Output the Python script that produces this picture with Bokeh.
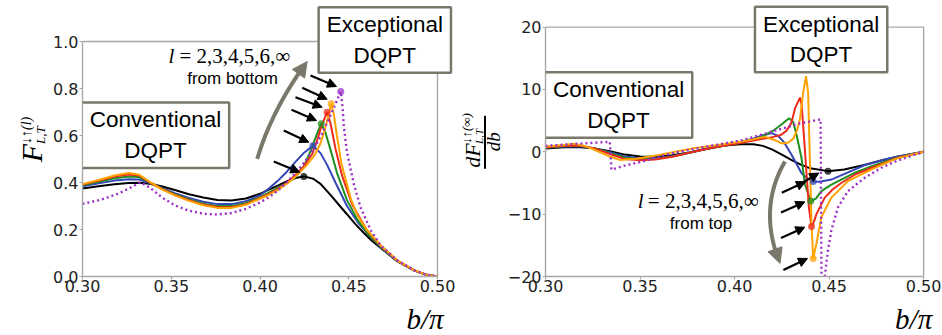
import numpy as np
from bokeh.plotting import figure
from bokeh.layouts import row, column
from bokeh.models import Label, Arrow, NormalHead, FixedTicker, Range1d, NumeralTickFormatter
from bokeh.embed import file_html
from bokeh.resources import INLINE

# ---------------- DATA : left panel  F_{L,T}(b/pi) ----------------
b_grid = [0.300, 0.310, 0.318, 0.326, 0.332, 0.338, 0.345, 0.352, 0.360, 0.368, 0.376, 0.384, 0.392, 0.400]

b_F2 = b_grid + [0.405, 0.410, 0.415, 0.420, 0.4247, 0.430, 0.4341, 0.4397, 0.445, 0.449, 0.4535, 0.4585, 0.463, 0.468, 0.4773, 0.4867, 0.493, 0.500]
F2 = [0.374, 0.385, 0.393, 0.398, 0.399, 0.395, 0.383, 0.368, 0.350, 0.336, 0.326, 0.323, 0.332, 0.352,
      0.370, 0.387, 0.405, 0.419, 0.426, 0.416, 0.394, 0.347, 0.300, 0.265, 0.225, 0.185, 0.152, 0.121, 0.065, 0.026, 0.009, 0.000]

b_F3 = b_grid + [0.405, 0.410, 0.415, 0.420, 0.425, 0.4298, 0.4341, 0.4378, 0.4425, 0.449, 0.455, 0.460, 0.468, 0.4773, 0.4867, 0.493, 0.500]
F3 = [0.384, 0.398, 0.408, 0.414, 0.413, 0.398, 0.376, 0.355, 0.334, 0.318, 0.308, 0.308, 0.320, 0.346,
      0.374, 0.407, 0.445, 0.488, 0.528, 0.556, 0.525, 0.475, 0.400, 0.300, 0.232, 0.188, 0.124, 0.066, 0.026, 0.009, 0.000]

b_F4 = b_grid + [0.405, 0.410, 0.415, 0.420, 0.4245, 0.4285, 0.432, 0.4345, 0.4369, 0.4397, 0.4434, 0.449, 0.4548, 0.4604, 0.468, 0.4773, 0.4867, 0.493, 0.500]
F4 = [0.388, 0.404, 0.418, 0.426, 0.423, 0.399, 0.373, 0.350, 0.328, 0.310, 0.300, 0.300, 0.312, 0.338,
      0.357, 0.377, 0.397, 0.424, 0.465, 0.535, 0.605, 0.650, 0.612, 0.540, 0.440, 0.325, 0.243, 0.185, 0.126, 0.067, 0.027, 0.009, 0.000]

b_F5 = b_grid + [0.405, 0.410, 0.415, 0.420, 0.425, 0.4293, 0.432, 0.4346, 0.4378, 0.4397, 0.4425, 0.4462, 0.452, 0.4604, 0.468, 0.4773, 0.4867, 0.493, 0.500]
F5 = [0.391, 0.409, 0.425, 0.434, 0.430, 0.400, 0.372, 0.347, 0.325, 0.306, 0.296, 0.295, 0.308, 0.334,
      0.352, 0.372, 0.398, 0.432, 0.472, 0.520, 0.575, 0.640, 0.699, 0.652, 0.545, 0.430, 0.305, 0.195, 0.130, 0.068, 0.027, 0.009, 0.000]

b_F6 = b_grid + [0.405, 0.410, 0.415, 0.420, 0.4265, 0.431, 0.434, 0.4365, 0.4388, 0.4401, 0.4416, 0.4433, 0.4459, 0.4512, 0.4548, 0.460, 0.468, 0.4773, 0.4867, 0.493, 0.500]
F6 = [0.393, 0.413, 0.430, 0.440, 0.433, 0.402, 0.370, 0.345, 0.322, 0.303, 0.292, 0.292, 0.305, 0.331,
      0.348, 0.368, 0.394, 0.425, 0.475, 0.520, 0.565, 0.625, 0.693, 0.735, 0.690, 0.600, 0.480, 0.330, 0.262, 0.200, 0.133, 0.069, 0.027, 0.009, 0.000]

b_Finf = [0.300, 0.310, 0.320, 0.327, 0.3327, 0.338, 0.345, 0.352, 0.360, 0.368, 0.376, 0.384, 0.392, 0.400,
          0.405, 0.410, 0.415, 0.420, 0.425, 0.430, 0.435, 0.440, 0.4455, 0.4465, 0.4472, 0.449, 0.4528, 0.4566, 0.4623, 0.468, 0.4773, 0.4867, 0.493, 0.500]
Finf = [0.309, 0.326, 0.352, 0.378, 0.401, 0.378, 0.335, 0.303, 0.280, 0.267, 0.264, 0.270, 0.288, 0.315,
        0.337, 0.365, 0.400, 0.440, 0.485, 0.540, 0.608, 0.690, 0.787, 0.720, 0.640, 0.530, 0.395, 0.295, 0.198, 0.132, 0.069, 0.027, 0.009, 0.000]

# peak markers (left panel), order l = 2,3,4,5,6,inf
peak_b = [0.4247, 0.4298, 0.4345, 0.4378, 0.4401, 0.4455]
peak_F = [0.426, 0.556, 0.650, 0.699, 0.735, 0.787]

# ---------------- DATA : right panel  dF/db ----------------
b_D2 = [0.300, 0.310, 0.318, 0.326, 0.334, 0.342, 0.350, 0.358, 0.367, 0.376, 0.385, 0.395, 0.403, 0.410, 0.415, 0.420,
        0.425, 0.430, 0.435, 0.440, 0.4494, 0.458, 0.4687, 0.478, 0.486, 0.493, 0.500]
D2 = [0.55, 0.72, 0.75, 0.55, 0.10, -0.45, -0.75, -0.78, -0.55, -0.10, 0.50, 1.00, 1.22, 1.20, 0.95, 0.35,
      -0.45, -1.30, -2.05, -2.65, -3.10, -2.85, -2.10, -1.35, -0.80, -0.40, 0.00]

b_D3 = [0.300, 0.310, 0.318, 0.326, 0.334, 0.342, 0.350, 0.358, 0.367, 0.376, 0.385, 0.395, 0.403, 0.410, 0.415, 0.4197,
        0.423, 0.426, 0.4302, 0.4354, 0.4385, 0.4416, 0.445, 0.4512, 0.460, 0.4687, 0.478, 0.486, 0.493, 0.500]
D3 = [0.65, 0.85, 0.88, 0.55, -0.05, -0.75, -1.05, -1.05, -0.70, -0.15, 0.45, 1.05, 1.55, 2.15, 2.65, 3.00,
      2.55, 1.60, -0.50, -3.40, -4.30, -4.75, -4.80, -4.45, -3.30, -2.15, -1.35, -0.80, -0.40, 0.00]

b_D4 = [0.300, 0.310, 0.318, 0.326, 0.334, 0.342, 0.350, 0.358, 0.367, 0.376, 0.385, 0.395, 0.403, 0.410, 0.415, 0.420,
        0.4245, 0.4288, 0.431, 0.4328, 0.4354, 0.4372, 0.4403, 0.443, 0.4459, 0.451, 0.4564, 0.464, 0.4722, 0.480, 0.486, 0.493, 0.500]
D4 = [0.70, 0.92, 0.95, 0.55, -0.20, -0.95, -1.20, -1.15, -0.75, -0.15, 0.45, 1.00, 1.45, 1.95, 2.50, 3.30,
      4.30, 5.40, 4.80, 2.70, -1.00, -5.20, -7.90, -7.50, -6.30, -5.30, -4.45, -3.30, -2.35, -1.55, -0.95, -0.45, 0.00]

b_D5 = [0.300, 0.310, 0.318, 0.326, 0.334, 0.342, 0.350, 0.358, 0.367, 0.376, 0.385, 0.395, 0.403, 0.410, 0.415, 0.420,
        0.4245, 0.4275, 0.430, 0.432, 0.4346, 0.4355, 0.4363, 0.4381, 0.4393, 0.4407, 0.442, 0.4433, 0.4477, 0.452, 0.4564, 0.464, 0.4722, 0.480, 0.486, 0.493, 0.500]
D5 = [0.75, 0.98, 1.00, 0.55, -0.35, -1.15, -1.35, -1.25, -0.80, -0.15, 0.45, 1.00, 1.40, 1.80, 2.10, 2.35,
      2.70, 3.40, 4.60, 7.00, 8.70, 7.50, 4.20, -3.70, -8.90, -12.00, -11.20, -10.00, -7.35, -6.00, -5.00, -3.60, -2.60, -1.70, -1.00, -0.50, 0.00]

b_D6 = [0.300, 0.310, 0.3147, 0.320, 0.325, 0.334, 0.3392, 0.348, 0.360, 0.3777, 0.390, 0.404, 0.4162, 0.421, 0.425, 0.4285,
        0.4311, 0.433, 0.4346, 0.4363, 0.4378, 0.4389, 0.4398, 0.4407, 0.4416, 0.4433, 0.4459, 0.4512, 0.460, 0.4722, 0.480, 0.486, 0.493, 0.500]
D6 = [0.85, 1.10, 1.30, 1.00, 0.45, -0.76, -1.30, -1.13, -0.50, 0.55, 1.05, 1.65, 2.40, 1.90, 1.34, 1.50,
      2.13, 3.40, 5.30, 9.50, 12.15, 9.50, -1.00, -11.60, -17.10, -14.70, -10.50, -7.35, -4.70, -2.87, -1.80, -1.05, -0.50, 0.00]

b_Dinf = [0.300, 0.310, 0.320, 0.334, 0.3349, 0.342, 0.3514, 0.360, 0.369, 0.380, 0.392, 0.404, 0.4162, 0.425, 0.4337, 0.4455,
          0.4460, 0.4477, 0.4494, 0.4512, 0.4547, 0.460, 0.4687, 0.4774, 0.486, 0.493, 0.500]
Dinf = [0.95, 1.15, 1.35, 1.60, -2.87, -2.20, -1.55, -0.80, -0.08, 0.55, 1.20, 1.87, 2.93, 3.70, 4.50, 5.20,
        -22.0, -20.0, -15.8, -12.6, -8.9, -6.3, -4.2, -2.6, -1.45, -0.70, 0.00]

# dip markers (right panel), order l = 2,3,4,5,6
dip_b = [0.4494, 0.4416, 0.4403, 0.4407, 0.4416]
dip_D = [-3.10, -4.75, -7.90, -12.00, -17.10]

# ticks
x_ticks = [0.30, 0.35, 0.40, 0.45, 0.50]
yl_ticks = [0.0, 0.2, 0.4, 0.6, 0.8, 1.0]
yr_ticks = [-20, -10, 0, 10, 20]
yr_labels = {-20: "\u221220", -10: "\u221210", 0: "0", 10: "10", 20: "20"}

# ---------------- STYLE / LAYOUT ----------------
COLORS = ["#000000", "#3547b8", "#1f8f1f", "#ee2a1b", "#ffa200", "#9b30c8"]
FRAME = "#a8a8a8"
BOXC = "#7a786a"
ARROWC = "#7a786a"
MID = 0.34   # distance from alphabetic baseline to the text-box middle, in em

H_TOP, H_BOT = 302, 33
W_YL, W_L, W_YR, W_R = 50, 406, 48, 438   # page x: 0|50|456|504|942


def Lxy(X, Y):   # page pixel -> data, left panel (0.30..0.50 at x 82..437, 0..1 at y 276..41)
    return 0.30 + (np.asarray(X) - 82) / 1775.0, (276 - np.asarray(Y)) / 235.0


def Rxy(X, Y):   # page pixel -> data, right panel (x 542..923, 20..-20 at y 27..280)
    return 0.30 + (np.asarray(X) - 542) / 1905.0, (153.5 - np.asarray(Y)) / 6.325


def Pxy(X, Y):   # page pixel coordinates (label strips)
    return np.asarray(X), np.asarray(Y)


def strip(width, height, x0, y0):
    p = figure(width=width, height=height, x_range=Range1d(x0, x0 + width), y_range=Range1d(y0 + height, y0),
               output_backend="svg", toolbar_location=None, x_axis_type=None, y_axis_type=None,
               min_border_left=0, min_border_right=0, min_border_top=0, min_border_bottom=0)
    p.outline_line_color = None
    p.background_fill_color = "white"
    p.border_fill_color = "white"
    return p


def make_panel(width, xr, yr, bl, bb, yticks, yfmt, xstand):
    p = figure(width=width, height=H_TOP, x_range=Range1d(*xr), y_range=Range1d(*yr),
               output_backend="svg", toolbar_location=None,
               min_border_left=bl, min_border_right=0, min_border_top=0, min_border_bottom=bb)
    p.xgrid.visible = False
    p.ygrid.visible = False
    p.outline_line_color = None
    p.background_fill_color = "white"
    p.border_fill_color = "white"
    p.xaxis.ticker = FixedTicker(ticks=x_ticks)
    p.yaxis.ticker = FixedTicker(ticks=yticks)
    p.xaxis.formatter = NumeralTickFormatter(format="0.00")
    if yfmt is not None:
        p.yaxis.formatter = NumeralTickFormatter(format=yfmt)
    p.xaxis.bounds = (x_ticks[0], x_ticks[-1])
    p.yaxis.bounds = (yticks[0], yticks[-1])
    for ax in (p.xaxis[0], p.yaxis[0]):
        ax.axis_line_color = FRAME
        ax.axis_line_width = 1.4
        ax.major_tick_line_color = FRAME
        ax.major_tick_line_width = 1.2
        ax.major_tick_in = 0
        ax.major_tick_out = 3
        ax.minor_tick_line_color = None
        ax.major_label_text_font = "DejaVu Sans"
        ax.major_label_text_font_size = "16px"
        ax.major_label_text_color = "#222222"
    p.yaxis[0].major_label_standoff = 1
    p.xaxis[0].major_label_standoff = xstand
    # top and right spines of the axes box
    p.multi_line([[x_ticks[0], x_ticks[-1]], [x_ticks[-1], x_ticks[-1]]],
                 [[yticks[-1], yticks[-1]], [yticks[0], yticks[-1]]], line_color=FRAME, line_width=1.4)
    return p


def add_text(p, conv, X, Y, text, size, font="Liberation Serif", style="normal",
             align="left", vertical=False):
    """(X, Y) is the point on the alphabetic baseline (page pixels)."""
    if vertical:
        X = X - MID * size
        angle = np.pi / 2
    else:
        Y = Y - MID * size
        angle = 0.0
    x, y = conv(X, Y)
    p.add_layout(Label(x=float(x), y=float(y), text=text, text_font=font, text_font_size=f"{size}px",
                       text_font_style=style, text_align=align, text_baseline="middle",
                       angle=angle, text_color="black"))


def add_box(p, conv, X, Y, text):
    x, y = conv(X, Y)
    p.add_layout(Label(x=float(x), y=float(y), text=text, text_font="Liberation Sans",
                       text_font_size="22.5px", text_align="center", text_baseline="middle",
                       text_line_height=1.22, text_color="black",
                       background_fill_color="white", background_fill_alpha=1.0,
                       border_line_color=BOXC, border_line_width=2.5,
                       padding=dict(left=8, right=8, top=5, bottom=5)))


def add_arrow(p, conv, s, e, color="black", width=2.2, head=9):
    x0, y0 = conv(*s)
    x1, y1 = conv(*e)
    p.add_layout(Arrow(x_start=float(x0), y_start=float(y0), x_end=float(x1), y_end=float(y1),
                       line_color=color, line_width=width,
                       end=NormalHead(size=head, fill_color=color, line_color=color, line_width=1)))


def curved_arrow(p, conv, s, c, e, color=ARROWC, width=4, head=15):
    t = np.linspace(0, 1, 41)
    X = (1 - t) ** 2 * s[0] + 2 * (1 - t) * t * c[0] + t ** 2 * e[0]
    Y = (1 - t) ** 2 * s[1] + 2 * (1 - t) * t * c[1] + t ** 2 * e[1]
    xs, ys = conv(X, Y)
    p.line(xs[:-4], ys[:-4], line_color=color, line_width=width)
    p.add_layout(Arrow(x_start=float(xs[-6]), y_start=float(ys[-6]), x_end=float(xs[-1]), y_end=float(ys[-1]),
                       line_color=color, line_width=width,
                       end=NormalHead(size=head, fill_color=color, line_color=color, line_width=1)))


# ================= LEFT PANEL =================
p1 = make_panel(W_L, (0.30, 0.30 + (W_YL + W_L - 82) / 1775.0), (0.0, 276 / 235.0), 32, H_TOP - 276, yl_ticks, "0.0", 0)
left_series = [(b_F2, F2), (b_F3, F3), (b_F4, F4), (b_F5, F5), (b_F6, F6)]
for (bx, fy), col in zip(left_series, COLORS[:5]):
    p1.line(bx, fy, line_color=col, line_width=2)
p1.line(b_Finf, Finf, line_color=COLORS[5], line_width=2.4, line_dash="2 3")
p1.scatter(peak_b, peak_F, size=7, marker="circle", fill_color=COLORS, line_color=None, fill_alpha=0.75)

add_box(p1, Lxy, 155.0, 134.7, "Conventional\nDQPT")
add_box(p1, Lxy, 384.3, 39.5, "Exceptional\nDQPT")
add_text(p1, Lxy, 168, 63, "l", 21, style="italic")
add_text(p1, Lxy, 295, 63, " = 2,3,4,5,6,\u221e", 21, align="right")
add_text(p1, Lxy, 232, 84, "from bottom", 17, font="Liberation Sans", align="center")
curved_arrow(p1, Lxy, (256.7, 158.3), (272, 108), (306.7, 61))
for s, e in [((273.3, 161), (299.3, 171.7)), ((283.3, 130), (308.3, 141.7)), ((291, 109.3), (316, 120)),
             ((295, 96.7), (321.7, 106.7)), ((301.7, 87.3), (326.7, 98.7)), ((310, 75), (336, 86))]:
    add_arrow(p1, Lxy, s, e)

# left y-label strip:  F^{↓↑(l)}_{L,T}
yl = strip(W_YL, H_TOP, 0, 0)
add_text(yl, Pxy, 41.5, 177, "F", 30, style="italic", vertical=True)
add_text(yl, Pxy, 30.5, 157, "\u2193\u2191(l)", 14, style="italic", vertical=True)
add_text(yl, Pxy, 44.5, 157, "L,T", 13, style="italic", vertical=True)

# ================= RIGHT PANEL =================
p2 = make_panel(W_R, (0.30, 0.30 + 400 / 1905.0), (-20.0, -20.0 + 280 / 6.325), 542 - 504, H_TOP - 280, yr_ticks, None, 0)
p2.yaxis.major_label_overrides = yr_labels
right_series = [(b_D2, D2), (b_D3, D3), (b_D4, D4), (b_D5, D5), (b_D6, D6)]
for (bx, dy), col in zip(right_series, COLORS[:5]):
    p2.line(bx, dy, line_color=col, line_width=2)
p2.line(b_Dinf, Dinf, line_color=COLORS[5], line_width=2.4, line_dash="2 3")
p2.scatter(dip_b, dip_D, size=7, marker="circle", fill_color=COLORS[:5], line_color=None, fill_alpha=0.75)

add_box(p2, Rxy, 819.7, 39.5, "Exceptional\nDQPT")
add_box(p2, Rxy, 615.6, 105.9, "Conventional\nDQPT")
add_text(p2, Rxy, 635, 211, "l", 21, style="italic")
add_text(p2, Rxy, 762, 211, " = 2,3,4,5,6,\u221e", 21, align="right")
add_text(p2, Rxy, 698.7, 232, "from top", 17, font="Liberation Sans", align="center")
curved_arrow(p2, Rxy, (783.3, 163.3), (755.8, 211), (778.3, 266.7))
for s, e in [((795, 188.3), (817.3, 175)), ((780, 195), (804, 184)), ((779.3, 215), (803.3, 204.3)),
             ((779.3, 241), (803.3, 230)), ((781.7, 273.3), (806, 261.7))]:
    add_arrow(p2, Rxy, s, e)

# right y-label strip:  dF^{↓↑(∞)}_{L,T} / db
yr = strip(W_YR, H_TOP, W_YL + W_L, 0)
add_text(yr, Pxy, 479.5, 183, "dF", 22, style="italic", vertical=True)
add_text(yr, Pxy, 470, 157, "\u2193\u2191(\u221e)", 13, style="italic", vertical=True)
add_text(yr, Pxy, 482, 157, "L,T", 11, style="italic", vertical=True)
yr.add_layout(Arrow(x_start=484.5, y_start=184, x_end=484.5, y_end=126,
                    line_color="black", line_width=2, end=None, start=None))
add_text(yr, Pxy, 499.5, 165, "db", 19, style="italic", vertical=True)

# ================= bottom strip with the x labels =================
xb = strip(942, H_BOT, 0, H_TOP)
add_text(xb, Pxy, 443, 327.9, "b/\u03c0", 29, style="italic", align="right")
add_text(xb, Pxy, 931.7, 327.9, "b/\u03c0", 29, style="italic", align="right")

layout = column(row(yl, p1, yr, p2, spacing=0), xb, spacing=0)
open("out.html", "w").write(file_html(layout, INLINE))
